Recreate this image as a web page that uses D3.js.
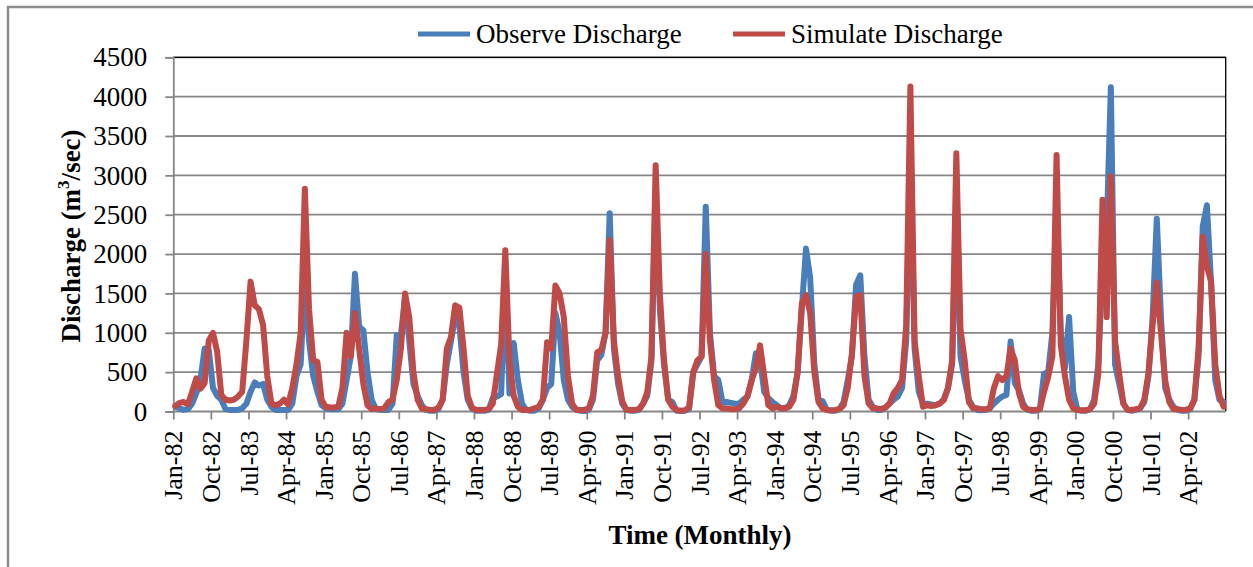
<!DOCTYPE html>
<html>
<head>
<meta charset="utf-8">
<script src="https://cdn.jsdelivr.net/npm/d3@7"></script>
<style>
  html, body { margin: 0; padding: 0; background: #fff; }
  svg { display: block; }
  svg text { font-family: "Liberation Serif", "Times New Roman", serif; fill: #000; }
</style>
</head>
<body>
<svg id="chart" width="1253" height="567"></svg>
<script>
// monthly discharge, Jan-1982 .. Dec-2002, one row per year
const observed = [
  60, 40, 20, 30, 100, 230, 400, 800, 780, 300, 200, 150,
  30, 20, 20, 20, 40, 100, 250, 370, 330, 350, 150, 60,
  20, 20, 20, 20, 100, 450, 600, 1700, 900, 450, 250, 80,
  40, 30, 30, 30, 100, 400, 700, 1750, 1080, 1030, 500, 150,
  30, 20, 20, 20, 100, 970, 970, 1450, 900, 350, 200, 80,
  20, 10, 10, 30, 150, 600, 900, 1200, 1100, 500, 150, 40,
  10, 10, 10, 20, 170, 190, 220, 1700, 230, 870, 400, 100,
  20, 10, 10, 40, 150, 300, 350, 1250, 1000, 400, 150, 60,
  20, 10, 5, 20, 150, 650, 720, 1000, 2520, 800, 350, 100,
  20, 10, 10, 20, 100, 200, 650, 2800, 1300, 600, 150, 120,
  10, 5, 10, 30, 500, 600, 700, 2600, 1000, 450, 400, 120,
  120, 110, 100, 100, 150, 190, 400, 740, 650, 250, 170, 120,
  80, 40, 40, 80, 200, 500, 1300, 2070, 1700, 600, 150, 130,
  20, 10, 10, 30, 120, 400, 700, 1610, 1730, 700, 150, 60,
  20, 20, 50, 100, 150, 190, 300, 900, 3300, 800, 250, 100,
  100, 90, 80, 100, 150, 300, 600, 2600, 700, 400, 150, 60,
  20, 15, 20, 40, 100, 150, 190, 210, 890, 360, 270, 100,
  20, 10, 10, 30, 480, 500, 1000, 2700, 1000, 550, 1200, 250,
  20, 10, 10, 30, 150, 600, 1800, 2300, 4120, 600, 350, 100,
  20, 10, 20, 40, 120, 450, 1200, 2450, 1200, 300, 150, 60,
  20, 10, 10, 30, 150, 700, 2350, 2620, 1630, 400, 150, 120
];

const simulated = [
  70, 110, 120, 90, 250, 420, 290, 360, 900, 1000, 760, 210,
  150, 140, 150, 190, 250, 900, 1650, 1350, 1300, 1100, 450, 100,
  80, 100, 150, 90, 300, 600, 1000, 2830, 1300, 650, 630, 150,
  60, 50, 50, 60, 300, 1000, 700, 1250, 800, 350, 80, 30,
  40, 30, 40, 120, 150, 400, 800, 1500, 1200, 500, 150, 40,
  30, 20, 20, 50, 150, 800, 950, 1350, 1320, 800, 200, 50,
  20, 20, 20, 30, 100, 480, 850, 2050, 650, 200, 60, 20,
  20, 20, 40, 60, 150, 880, 800, 1600, 1500, 1200, 450, 100,
  20, 20, 20, 40, 200, 750, 780, 1000, 2180, 900, 450, 130,
  20, 20, 20, 30, 100, 250, 700, 3130, 1500, 650, 150, 60,
  20, 10, 15, 50, 500, 650, 700, 2000, 900, 400, 80, 40,
  40, 30, 30, 40, 100, 200, 400, 550, 840, 450, 80, 40,
  60, 40, 40, 60, 150, 500, 1370, 1480, 1250, 500, 120, 40,
  20, 15, 20, 30, 80, 300, 740, 1460, 1480, 450, 100, 40,
  40, 30, 50, 100, 230, 300, 400, 1100, 4130, 900, 450, 60,
  80, 70, 80, 100, 150, 300, 650, 3280, 1050, 650, 120, 40,
  40, 30, 30, 40, 300, 450, 400, 450, 800, 650, 230, 60,
  30, 20, 20, 30, 250, 440, 700, 3260, 850, 450, 150, 40,
  20, 15, 15, 30, 100, 480, 2690, 1200, 2990, 900, 480, 100,
  20, 20, 30, 40, 150, 480, 1100, 1640, 1000, 400, 120, 30,
  30, 20, 20, 40, 150, 800, 2220, 1850, 1650, 600, 200, 60
];

// one label every 9 months, starting Jan-82
const xTickLabels = [
  "Jan-82", "Oct-82", "Jul-83", "Apr-84", "Jan-85", "Oct-85", "Jul-86",
  "Apr-87", "Jan-88", "Oct-88", "Jul-89", "Apr-90", "Jan-91", "Oct-91",
  "Jul-92", "Apr-93", "Jan-94", "Oct-94", "Jul-95", "Apr-96", "Jan-97",
  "Oct-97", "Jul-98", "Apr-99", "Jan-00", "Oct-00", "Jul-01", "Apr-02"
];
const yTicks = [0, 500, 1000, 1500, 2000, 2500, 3000, 3500, 4000, 4500];
const seriesNames = ["Observe Discharge", "Simulate Discharge"];

const blue = "#4a7ebb", red = "#be4b48", grid = "#878787";

const svg = d3.select("#chart");
svg.append("rect").attr("width", 1253).attr("height", 567).attr("fill", "#fff");

// outer chart frame (cropped at right/bottom)
svg.append("rect")
  .attr("x", 8).attr("y", 7).attr("width", 1300).attr("height", 620)
  .attr("fill", "none").attr("stroke", "#8c8c8c").attr("stroke-width", 2.5);

const plotL = 173.3, plotR = 1225.7, plotT = 57.3, plotB = 411.5;
const n = observed.length;

const x = d3.scaleLinear().domain([0, n]).range([plotL, plotR]);
const y = d3.scaleLinear().domain([0, 4500]).range([plotB, plotT]);

// gridlines
svg.append("g")
  .selectAll("line")
  .data(yTicks.filter(d => d > 0))
  .enter().append("line")
  .attr("x1", plotL).attr("x2", plotR)
  .attr("y1", d => y(d)).attr("y2", d => y(d))
  .attr("stroke", grid).attr("stroke-width", 1.8);

// plot border top / right
svg.append("path")
  .attr("d", `M${plotL},${plotT}H${plotR}V${plotB}`)
  .attr("fill", "none").attr("stroke", "#000").attr("stroke-width", 1.3);

// y axis
const yAxis = svg.append("g")
  .attr("transform", `translate(${plotL},0)`)
  .call(d3.axisLeft(y).tickValues(yTicks).tickFormat(d3.format("d"))
    .tickSize(8).tickPadding(18));
yAxis.attr("font-family", null).attr("font-size", 27);
yAxis.select(".domain").attr("stroke", grid).attr("stroke-width", 1.8);
yAxis.selectAll(".tick line").attr("stroke", grid).attr("stroke-width", 1.8);

// x axis
const tickIdx = xTickLabels.map((d, i) => i * 9);
const xAxis = svg.append("g")
  .attr("transform", `translate(0,${plotB})`)
  .call(d3.axisBottom(x).tickValues(tickIdx).tickSize(8)
    .tickFormat((d, i) => xTickLabels[i]));
xAxis.attr("font-family", null).attr("font-size", 26);
xAxis.select(".domain").attr("d", `M${plotL},0H${plotR}`)
  .attr("stroke", grid).attr("stroke-width", 1.8);
xAxis.selectAll(".tick line").attr("stroke", grid).attr("stroke-width", 1.8);
xAxis.selectAll("text")
  .attr("transform", "rotate(-90)")
  .attr("x", -19).attr("y", 0).attr("dy", "0.33em")
  .style("text-anchor", "end");

// series
const line = d3.line()
  .x((d, i) => x(i + 0.5))
  .y(d => y(d));

svg.append("path").datum(observed)
  .attr("d", line).attr("fill", "none")
  .attr("stroke", blue).attr("stroke-width", 6)
  .attr("stroke-linejoin", "round").attr("stroke-linecap", "round");

svg.append("path").datum(simulated)
  .attr("d", line).attr("fill", "none")
  .attr("stroke", red).attr("stroke-width", 6)
  .attr("stroke-linejoin", "round").attr("stroke-linecap", "round");

// legend
const legend = svg.append("g").attr("font-size", 27);
[[418, blue], [733, red]].forEach(([lx, c], i) => {
  legend.append("line")
    .attr("x1", lx).attr("x2", lx + 52).attr("y1", 34).attr("y2", 34)
    .attr("stroke", c).attr("stroke-width", 5);
  legend.append("text")
    .attr("x", lx + 58).attr("y", 43)
    .text(seriesNames[i]);
});

// axis titles
const yTitle = svg.append("text")
  .attr("transform", "translate(80,236) rotate(-90)")
  .attr("text-anchor", "middle")
  .attr("font-size", 27).attr("font-weight", "bold");
yTitle.append("tspan").text("Discharge (m");
yTitle.append("tspan").attr("font-size", 17).attr("dy", -11).text("3");
yTitle.append("tspan").attr("dy", 11).text("/sec)");

svg.append("text")
  .attr("x", 700).attr("y", 544)
  .attr("text-anchor", "middle")
  .attr("font-size", 27).attr("font-weight", "bold")
  .text("Time (Monthly)");
</script>
</body>
</html>
